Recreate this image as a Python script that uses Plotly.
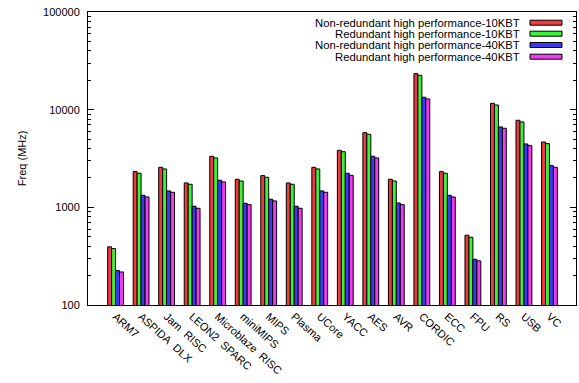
import plotly.graph_objects as go

categories = ["ARM7", "ASPIDA DLX", "Jam RISC", "LEON2 SPARC", "Microblaze RISC",
              "miniMIPS", "MIPS", "Plasma", "UCore", "YACC", "AES", "AVR", "CORDIC",
              "ECC", "FPU", "RS", "USB", "VC"]
# tick labels as rendered in the reference (wide word spacing)
tick_labels = [c.replace(" ", "\u00a0\u00a0") for c in categories]

series_names = ["Non-redundant high performance-10KBT",
                "Redundant high performance-10KBT",
                "Non-redundant high performance-40KBT",
                "Redundant high performance-40KBT"]

nonred_10k = [394, 2321, 2570, 1778, 3334, 1938, 2113, 1778, 2570, 3839, 5821, 1938,
              23380, 2321, 518, 11620, 7787, 4668]
red_10k = [378, 2234, 2472, 1722, 3205, 1862, 2032, 1722, 2472, 3715, 5597, 1862,
           22490, 2234, 494, 11170, 7486, 4488]
nonred_40k = [225, 1328, 1472, 1026, 1894, 1101, 1211, 1026, 1472, 2234, 3334, 1109,
              13400, 1328, 294, 6653, 4457, 2673]
red_40k = [218, 1277, 1426, 978, 1820, 1067, 1164, 978, 1426, 2128, 3205, 1067,
           12880, 1277, 283, 6446, 4285, 2570]

series_values = [nonred_10k, red_10k, nonred_40k, red_40k]
colors = ["#f23a3a", "#3af23a", "#3a3af2", "#f23af2"]

y_tick_vals = [100, 1000, 10000, 100000]
y_tick_text = ["100", "1000", "10000", "100000"]

fig = go.Figure()
for name, vals, col in zip(series_names, series_values, colors):
    fig.add_trace(go.Bar(
        x=categories, y=vals, name=name,
        marker=dict(color=col, line=dict(color="black", width=1)),
        showlegend=False,
    ))

font_family = "Liberation Sans, Arial, sans-serif"

FW, FH = 579, 383
L, R, T, B = 88, 576, 12, 305
fig.update_layout(
    width=FW, height=FH,
    margin=dict(l=L, r=FW - R, t=T, b=FH - B, autoexpand=False),
    paper_bgcolor="white", plot_bgcolor="white",
    barmode="group", bargap=0.38, bargroupgap=0,
    font=dict(family=font_family, size=11, color="black"),
)

fig.update_xaxes(
    type="category", automargin=False,
    range=[-1.08, len(categories) - 1 + 1.04],
    tickvals=categories, ticktext=tick_labels,
    showline=True, linecolor="black", linewidth=1, mirror=True,
    ticks="", tickangle=42,
    tickfont=dict(size=11, family=font_family),
    showgrid=False,
)

fig.update_yaxes(
    type="log", range=[2, 5], automargin=False,
    tickvals=y_tick_vals, ticktext=y_tick_text,
    showline=True, linecolor="black", linewidth=1, mirror="ticks",
    ticks="inside", ticklen=6, tickcolor="black",
    minor=dict(ticks="inside", ticklen=3, tickcolor="black", dtick="D1", showgrid=False),
    showgrid=False, zeroline=False,
    ticklabelstandoff=5,
    tickfont=dict(size=11, family=font_family),
)

pw = R - L
ph = B - T

def px_x(sx):
    return (sx - L) / pw

def px_y(sy):
    return (B - sy) / ph

# Y axis title
fig.add_annotation(
    xref="paper", yref="paper",
    x=px_x(21.7), y=0.5, textangle=-90,
    text="Freq (MHz)", showarrow=False, xanchor="center", yanchor="middle",
    font=dict(size=11, family=font_family, color="black"),
)

# Legend drawn manually (text right-aligned, swatch at right), as in the reference
legend_rows_y = [22.7, 33.7, 45.0, 56.7]
for name, col, yy in zip(series_names, colors, legend_rows_y):
    fig.add_annotation(
        xref="paper", yref="paper",
        x=px_x(522), y=px_y(yy),
        text=name, showarrow=False, xanchor="right", yanchor="middle",
        font=dict(size=11.3, family=font_family, color="black"),
    )
    fig.add_shape(
        type="rect", xref="paper", yref="paper",
        x0=px_x(530), x1=px_x(562),
        y0=px_y(yy + 2.5), y1=px_y(yy - 2.5),
        fillcolor=col, line=dict(color="black", width=1),
    )

fig.write_html(
    "out.html",
    config={"displayModeBar": False},
    post_script="document.body.style.margin='0';document.body.style.overflow='hidden';",
)
